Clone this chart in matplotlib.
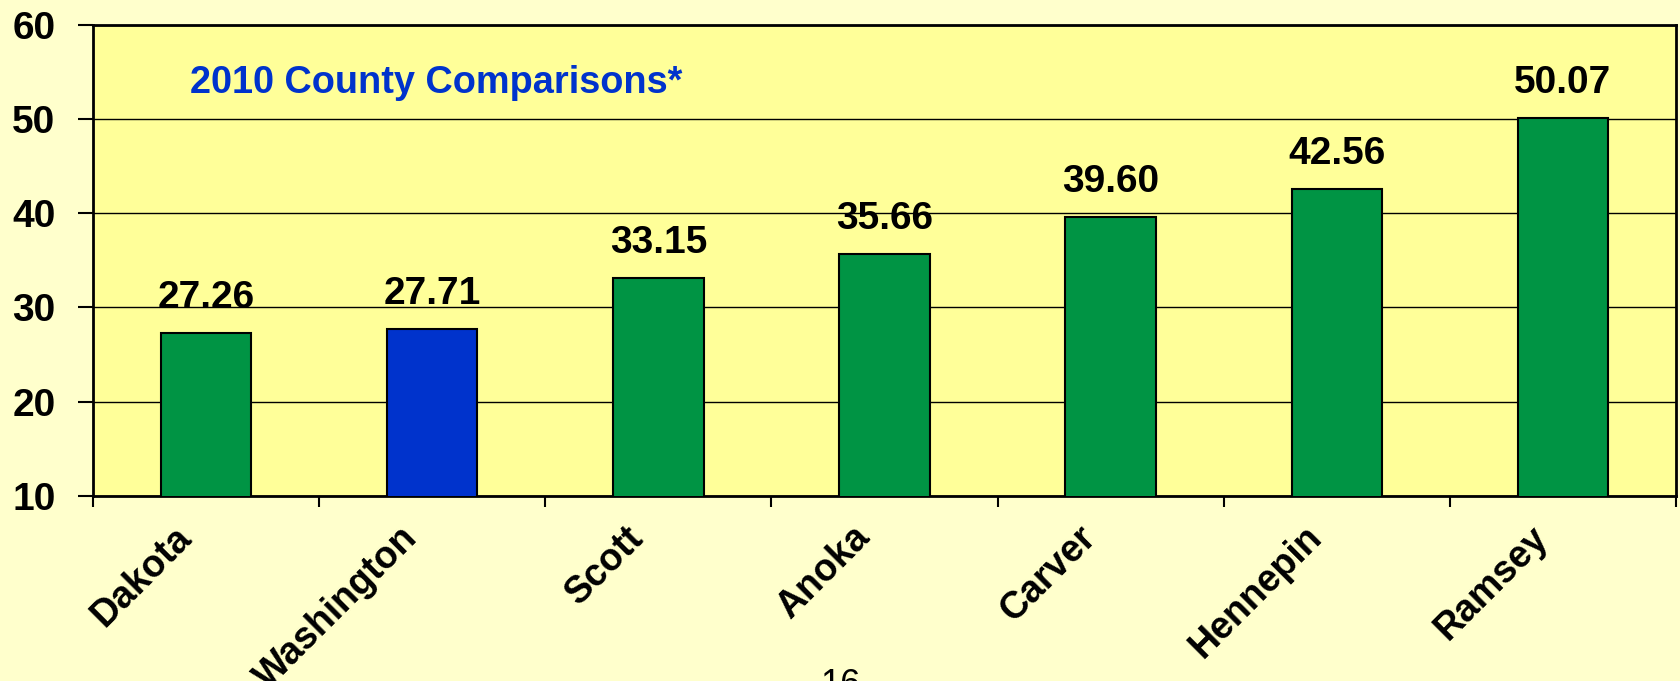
import matplotlib
matplotlib.use("Agg")
import matplotlib.pyplot as plt
import matplotlib.transforms as mtransforms
import numpy as np

counties = ["Dakota", "Washington", "Scott", "Anoka", "Carver", "Hennepin", "Ramsey"]
values = [27.26, 27.71, 33.15, 35.66, 39.60, 42.56, 50.07]
highlight = "Washington"
y_ticks = [10, 20, 30, 40, 50, 60]

plt.rcParams["font.family"] = ["Liberation Sans", "DejaVu Sans"]

green = "#009444"
blue = "#0033CC"

fig = plt.figure(figsize=(16.81, 6.81), dpi=100, facecolor="#FFFFCC")
ax = fig.add_axes([0.0553, 0.2717, 0.9417, 0.692])
ax.set_facecolor("#FFFF99")

x = np.arange(len(counties))
colors = [blue if c == highlight else green for c in counties]
bars = ax.bar(x, values, width=0.4, bottom=0, color=colors, edgecolor="black",
              linewidth=1.5, zorder=3)

for xi, v in zip(x, values):
    ax.annotate(f"{v:.2f}", (xi, v), xytext=(0, 18), textcoords="offset points",
                ha="center", va="baseline", fontsize=28, fontweight="bold", zorder=4)

ax.set_xlim(-0.5, len(counties) - 0.5)
ax.set_ylim(10, 60)
ax.set_yticks(y_ticks)
ax.set_yticklabels([str(t) for t in y_ticks], fontsize=28, fontweight="bold")
ax.yaxis.grid(True, color="black", linewidth=1.0, zorder=1)
ax.set_axisbelow(True)
ax.tick_params(axis="y", direction="out", length=11, width=1.5, pad=16)

# category boundary tick marks, labels at centres
ax.set_xticks(x)
ax.set_xticklabels(counties, fontsize=27, fontweight="bold", rotation=45,
                   ha="right", va="center", rotation_mode="anchor")
ax.set_xticks(np.arange(-0.5, len(counties)), minor=True)
ax.tick_params(axis="x", which="major", length=0, pad=26)
ax.tick_params(axis="x", which="minor", direction="out", length=8, width=1.5)
shift = mtransforms.ScaledTranslation(-20 / 100, 0, fig.dpi_scale_trans)
for lab in ax.get_xticklabels():
    lab.set_transform(lab.get_transform() + shift)

for s in ax.spines.values():
    s.set_linewidth(2)
    s.set_color("black")

ax.text(0.0613, 53.8, "2010 County Comparisons*", transform=ax.get_yaxis_transform(),
        ha="left", va="center", fontsize=27.3, fontweight="bold", color=blue)

fig.text(0.5, 0.019, "16", ha="center", va="top", fontsize=26)

fig.savefig("out.png", dpi=100, facecolor=fig.get_facecolor())
